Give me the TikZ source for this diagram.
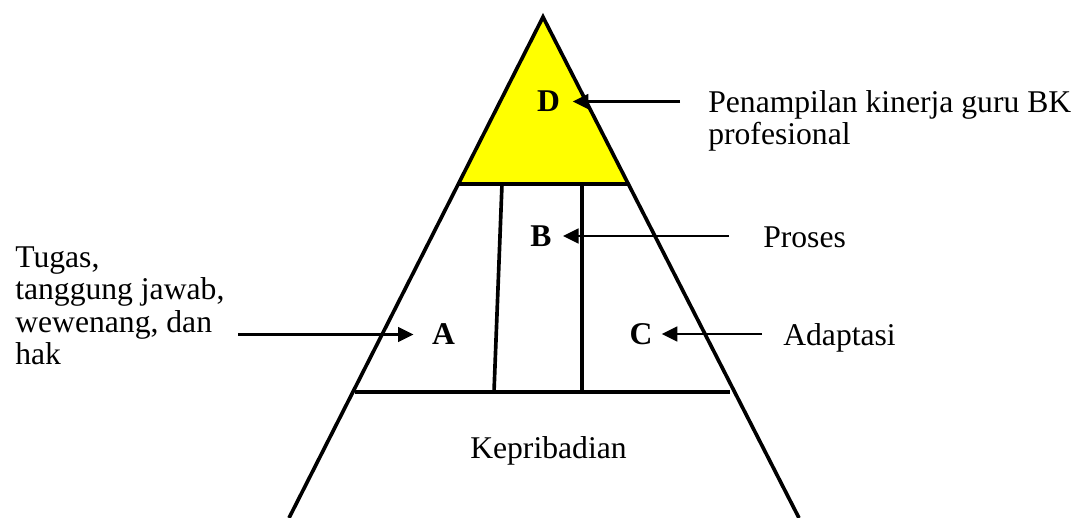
\documentclass[tikz,border=0pt]{standalone}
\usepackage{fontspec}
\setmainfont{Liberation Serif}
\usetikzlibrary{arrows.meta, calc}
\definecolor{topyellow}{RGB}{255,255,0}

\begin{document}
\begin{tikzpicture}[
      x=0.025cm, y=-0.025cm,
      font=\fontsize{22.5}{23.1}\selectfont,
      edge/.style={line width=2.6pt},
      letter/.style={inner sep=0pt, font=\fontsize{22.5}{23.1}\selectfont\bfseries},
      lbl/.style={inner sep=0pt, anchor=base west, align=left},
      arrow/.style={-{Triangle[length=11pt, width=10.5pt]}, line width=1.7pt}
    ]
    \useasboundingbox (0,0) rectangle (1078,518);

    % pyramid
    \coordinate (top) at (543,17);
    \coordinate (bl) at (289,518);
    \coordinate (br) at (799,518);
    \fill[topyellow] (top) -- ($(top)!1/3!(bl)$) -- ($(top)!1/3!(br)$) -- cycle;
    \draw[edge] (bl) -- (top) -- (br);
    \draw[edge] ($(top)!1/3!(bl)$) -- ($(top)!1/3!(br)$);
    \draw[edge] (355,392) -- (730,392);
    \draw[edge] (502,184) -- (494,392);
    \draw[edge] (582,184) -- (582,392);

    % letters
    \node[letter] (D) at (548.5,101.5) {D};
    \node[letter] (B) at (541,236) {B};
    \node[letter] (A) at (443.5,334.5) {A};
    \node[letter] (C) at (641,334) {C};

    % labels (base = last line)
    \node[lbl] (kinerja) at (708,145) {Penampilan kinerja guru BK\\profesional};
    \node[lbl] (proses) at (763,247) {Proses};
    \node[lbl] (adaptasi) at (783,345) {Adaptasi};
    \node[lbl] (tugas) at (15,364.5) {Tugas,\\tanggung jawab,\\wewenang, dan\\hak};
    \node[lbl] (kepribadian) at (470,458) {Kepribadian};

    % arrows
    \coordinate (fromD) at (680,101.5);
    \coordinate (fromB) at (729,236);
    \coordinate (fromA) at (238,334.5);
    \coordinate (fromC) at (762,334);
    \draw[arrow, shorten >=9pt] (fromD) -- (D);
    \draw[arrow, shorten >=8pt] (fromB) -- (B);
    \draw[arrow, shorten >=13pt] (fromA) -- (A);
    \draw[arrow, shorten >=6.5pt] (fromC) -- (C);
  \end{tikzpicture}
\end{document}
